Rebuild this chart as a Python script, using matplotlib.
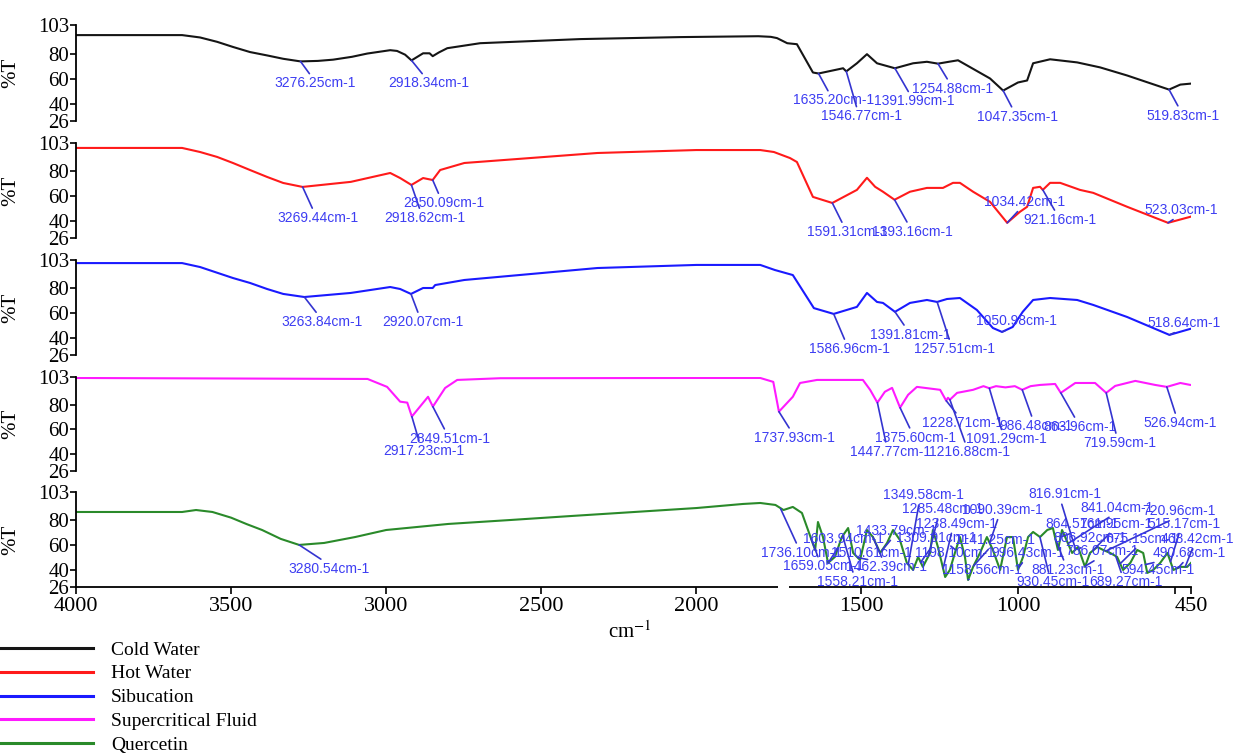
import numpy as np
import matplotlib.pyplot as plt
from matplotlib.lines import Line2D

plt.rcParams['mathtext.fontset'] = 'stix'

# ---- spectra: wavenumber (cm-1) and transmittance (%T) ----
cold_w = [4000, 3658, 3600, 3545, 3494, 3439, 3384, 3332, 3276.25, 3220, 3171, 3110, 3061,
          2987, 2965, 2939, 2918.34, 2881, 2860, 2850, 2830, 2803, 2697, 2374, 2052, 1800,
          1760, 1740, 1729, 1704, 1653, 1635.20, 1557, 1546.77, 1513, 1481, 1449, 1391.99,
          1334, 1290, 1254.88, 1220, 1191, 1089, 1047.35, 1000, 971, 952, 898, 812, 739, 653,
          519.83, 484, 450]
cold_t = [94.9, 94.9, 93.0, 89.5, 85.4, 81.3, 78.6, 75.9, 73.8, 74.2, 75.2, 77.5, 80.1,
          82.8, 82.2, 79.2, 74.6, 80.3, 80.3, 78.0, 81.0, 84.4, 88.4, 91.7, 93.3, 94.0,
          93.5, 92.5, 88.4, 87.6, 64.9, 64.1, 68.3, 65.8, 72.3, 79.6, 72.3, 68.3,
          72.3, 73.5, 72.0, 73.5, 74.7, 60.1, 50.4, 56.9, 58.5, 72.3, 75.5, 73.0, 69.0, 62.5,
          51.2, 55.2, 56.0]

hot_w = [4000, 3658, 3600, 3545, 3494, 3439, 3384, 3332, 3269.44, 3114, 2987, 2955, 2918.62,
         2881, 2850.09, 2826, 2748, 2319, 2000, 1794, 1750, 1726, 1704, 1653, 1591.31, 1513,
         1481, 1455, 1430, 1393.16, 1344, 1290, 1239, 1207, 1185, 1143, 1089, 1034.42, 994,
         971, 952, 930, 921.16, 898, 866, 803, 761, 653, 523.03, 452, 450]
hot_t = [99.0, 99.0, 95.7, 91.7, 86.8, 81.1, 75.5, 70.6, 67.4, 71.5, 78.7, 74.6, 69.0,
         74.6, 73.0, 81.1, 86.8, 94.9, 97.3, 97.3, 95.7, 90.8, 87.6, 59.3, 54.4, 65.0,
         74.8, 67.5, 63.5, 57.0, 63.5, 66.6, 66.6, 70.7, 70.7, 63.5, 55.3, 38.3, 47.2,
         51.3, 66.6, 67.5, 65.0, 70.7, 70.7, 65.0, 62.6, 51.3, 38.3, 43.2, 43.4]

sib_w = [4000, 3658, 3600, 3494, 3439, 3384, 3332, 3263.84, 3114, 2987, 2955, 2920.07, 2881,
         2850, 2842, 2748, 2319, 2000, 1794, 1747, 1717, 1650, 1586.96, 1513, 1481, 1449,
         1430, 1391.81, 1344, 1290, 1257.51, 1226, 1185, 1131, 1080, 1050.98, 1017, 985, 952,
         898, 812, 761, 653, 518.64, 452, 450]
sib_t = [100.5, 100.5, 97.3, 88.4, 84.4, 79.5, 75.5, 73.0, 76.3, 81.1, 79.5, 75.5, 80.3,
         80.3, 82.7, 86.8, 96.5, 99.0, 99.0, 94.9, 90.8, 64.0, 59.3, 65.0, 76.3, 69.0,
         68.2, 61.0, 68.2, 70.6, 69.0, 71.4, 72.2, 62.5, 47.9, 44.7, 48.7, 61.0, 70.6,
         72.2, 70.6, 66.6, 56.8, 42.3, 47.2, 47.3]

scf_w = [4000, 3060, 2997, 2955, 2932, 2917.23, 2865, 2849.51, 2810, 2771, 2632, 2000,
         1794, 1752, 1737.93, 1717, 1694, 1640, 1494, 1471, 1447.77, 1424, 1401, 1375.60,
         1350, 1322, 1248, 1228.71, 1223, 1216.88, 1194, 1143, 1110, 1091.29, 1070, 1040,
         1010, 986.48, 960, 930, 882, 863.96, 818, 755, 719.59, 691, 627, 564, 526.94,
         484, 452, 450]
scf_t = [102.2, 101.4, 94.9, 82.8, 82.0, 70.6, 86.8, 78.7, 94.0, 100.6, 102.0, 102.2,
         102.2, 99.0, 74.6, 86.8, 98.1, 100.6, 100.6, 92.5, 82.0, 90.9, 94.1, 77.9,
         88.4, 94.9, 92.5, 83.6, 86.0, 84.4, 90.0, 92.5, 95.5, 93.8, 95.5, 94.5,
         95.5, 92.5, 95.5, 96.5, 97.3, 90.0, 98.1, 98.1, 90.0, 95.7, 99.8, 96.5, 94.9,
         98.1, 96.5, 96.5]

quer_w = [4000, 3658, 3613, 3560, 3500, 3450, 3400, 3340, 3280.54, 3200, 3100, 3000, 2800,
          2600, 2400, 2200, 2000, 1850, 1794, 1745, 1733, 1717, 1688, 1646, 1637, 1621, 1605,
          1583, 1561, 1541, 1525, 1503, 1481, 1462, 1439, 1417, 1398, 1376, 1354, 1334, 1318,
          1303, 1280, 1271, 1255, 1232, 1217, 1201, 1185, 1169, 1159, 1143, 1121, 1099, 1080,
          1057, 1035, 1016, 1000, 984, 968, 952, 930, 907, 889, 873, 860, 850, 828, 809, 787,
          771, 748, 729, 707, 685, 666, 643, 621, 602, 589, 570, 548, 525, 506, 484, 462, 450]
quer_t = [86.8, 86.8, 88.4, 86.8, 82.2, 77.0, 72.2, 65.0, 60.1, 61.7, 66.5, 72.2, 77.1,
          80.3, 83.6, 86.8, 90.0, 93.3, 94.1, 92.5, 88.4, 90.9, 86.0, 56.0, 78.7, 66.5, 45.5,
          50.4, 66.5, 73.8, 53.6, 47.9, 72.2, 66.5, 53.6, 61.7, 72.2, 64.1, 45.5, 39.8, 50.4,
          42.3, 53.6, 72.2, 58.4, 34.1, 39.8, 53.6, 66.5, 50.4, 31.7, 42.3, 53.6, 66.5, 56.0,
          39.8, 66.5, 66.5, 39.8, 50.4, 66.5, 70.6, 66.5, 72.2, 73.8, 56.0, 72.2, 66.5, 53.6,
          58.4, 42.3, 53.6, 58.4, 56.0, 53.6, 50.4, 39.8, 45.5, 56.0, 53.6, 37.4, 39.8, 45.5,
          53.6, 39.8, 42.3, 42.3, 45.5]

# ---- picked bands and where their labels sit (pixels right / down from the band) ----
cold_pk = [3276.25, 2918.34, 1635.20, 1546.77, 1391.99, 1254.88, 1047.35, 519.83]
cold_off = [(15, 22), (17, 23), (15, 27), (15, 45), (19, 33), (15, 25), (14, 26), (14, 26)]

hot_pk = [3269.44, 2918.62, 2850.09, 1591.31, 1393.16, 1034.42, 921.16, 523.03]
hot_off = [(15, 31), (13, 33), (11, 23), (15, 29), (18, 32), (17, -21), (17, 30), (13, -13)]

sib_pk = [3263.84, 2920.07, 1586.96, 1391.81, 1257.51, 1050.98, 518.64]
sib_off = [(18, 25), (12, 28), (16, 35), (15, 23), (17, 47), (14, -11), (15, -12)]

scf_pk = [2917.23, 2849.51, 1737.93, 1447.77, 1375.60, 1228.71, 1216.88, 1091.29, 986.48,
          863.96, 719.59, 526.94]
scf_off = [(12, 34), (17, 32), (16, 26), (13, 49), (15, 30), (16, 22), (20, 52), (17, 51),
           (14, 36), (19, 34), (14, 50), (13, 36)]

quer_pk = [3280.54, 1736.10, 1659.05, 1603.94, 1558.21, 1510.61, 1462.39, 1433.79, 1349.58,
           1309.91, 1285.48, 1238.49, 1198.10, 1158.56, 1141.25, 1090.39, 996.43, 930.45,
           881.23, 864.51, 841.04, 816.91, 806.92, 786.07, 761.95, 720.96, 689.27, 675.15,
           594.45, 515.17, 490.68, 468.42]
quer_off = [(30, 24), (21, 44), (12, 28), (15, -24), (15, 46), (14, -5), (14, 30), (15, -20),
            (15, -69), (16, -24), (14, -47), (13, -45), (-1, 3), (14, -10), (21, -26),
            (13, -33), (9, -14), (13, 45), (13, 31), (21, -13), (49, -36), (-11, -55),
            (11, -11), (17, -15), (23, -27), (73, -40), (10, 26), (22, -25), (12, 5),
            (13, -38), (11, -15), (12, -28)]

names = ['Cold Water', 'Hot Water', 'Sibucation', 'Supercritical Fluid', 'Quercetin']
colors = ['#151515', '#ff1a1a', '#1a1aff', '#ff1aff', '#2a8a2a']
series = [(cold_w, cold_t, cold_pk, cold_off),
          (hot_w, hot_t, hot_pk, hot_off),
          (sib_w, sib_t, sib_pk, sib_off),
          (scf_w, scf_t, scf_pk, scf_off),
          (quer_w, quer_t, quer_pk, quer_off)]

# broken wavenumber axis: compressed above ~1730 cm-1, small gap, expanded below
brk_w = np.array([450, 1000, 1500, 1726, 1740, 4000], float)
brk_p = np.array([0, 173, 330, 401, 414, 1115], float)


def fwd(w):
    return np.interp(np.asarray(w, float), brk_w, brk_p)


def inv(p):
    return np.interp(np.asarray(p, float), brk_p, brk_w)


label_blue = '#3d3df2'
leader_blue = '#3434d0'
W, H = 1236, 754
fig = plt.figure(figsize=(W / 100, H / 100), dpi=100)

tops = [25, 143, 260, 377, 492]
bots = [121, 238, 355, 471, 587]

for i, (w, t, pk, off) in enumerate(series):
    ax = fig.add_axes([76 / W, 1 - bots[i] / H, 1115 / W, (bots[i] - tops[i]) / H])
    ax.set_xscale('function', functions=(fwd, inv))
    ax.plot(w, t, color=colors[i], lw=1.5, solid_joinstyle='round')
    ax.set_xlim(4000, 450)
    ax.set_ylim(26, 103)
    ax.set_yticks([26, 40, 60, 80, 103])
    ax.tick_params(axis='y', direction='out', length=4, width=1.2, pad=1, labelsize=15)
    for lb in ax.get_yticklabels():
        lb.set_family('Liberation Serif')
    for s in ['top', 'right']:
        ax.spines[s].set_visible(False)
    ax.spines['left'].set_linewidth(1.3)
    ax.set_ylabel('%T', family='Liberation Serif', fontsize=15)
    ax.yaxis.set_label_coords(-0.05, 0.5)

    ww = np.array(w, float)[::-1]
    tt = np.array(t, float)[::-1]
    for p, (dx, dy) in zip(pk, off):
        y = np.interp(p, ww, tt)
        rel = (0.45, 1.0) if dy > 0 else (0.45, 0.0)
        ax.annotate(f'{p:.2f}cm-1', xy=(p, y), xytext=(dx, -dy), textcoords='offset pixels',
                    ha='center', va='center', fontsize=10, color=label_blue,
                    family='Liberation Sans',
                    arrowprops=dict(arrowstyle='-', color=leader_blue, lw=1.2,
                                    relpos=rel, shrinkA=0, shrinkB=0))

    if i < 4:
        ax.spines['bottom'].set_visible(False)
        ax.set_xticks([])
        ax.xaxis.set_minor_locator(plt.NullLocator())
    else:
        ax.spines['bottom'].set_linewidth(1.3)
        ax.set_xticks([4000, 3500, 3000, 2500, 2000, 1500, 1000, 500, 450])
        ax.set_xticklabels(['4000', '3500', '3000', '2500', '2000', '1500', '1000', '', '450'])
        ax.xaxis.set_minor_locator(plt.NullLocator())
        ax.tick_params(axis='x', direction='out', length=5, width=1.2, pad=2, labelsize=16)
        for lb in ax.get_xticklabels():
            lb.set_family('Liberation Serif')
        # gap in the axis line at the break
        ax.plot([1739, 1727], [0, 0], color='white', lw=4, clip_on=False, zorder=5,
                transform=ax.get_xaxis_transform(), solid_capstyle='butt')

fig.text(630 / W, 1 - 632 / H, 'cm$^{-1}$', family='Liberation Serif', fontsize=15,
         ha='center', va='center')

handles = [Line2D([], [], color=c, lw=2.2) for c in colors]
fig.legend(handles, names, loc='lower left', bbox_to_anchor=(0.0, 0.0), frameon=False,
           prop={'family': 'Liberation Serif', 'size': 14}, handlelength=4.8,
           handletextpad=0.9, labelspacing=0.32, borderpad=0, borderaxespad=0)

fig.savefig('out.png', dpi=100)
